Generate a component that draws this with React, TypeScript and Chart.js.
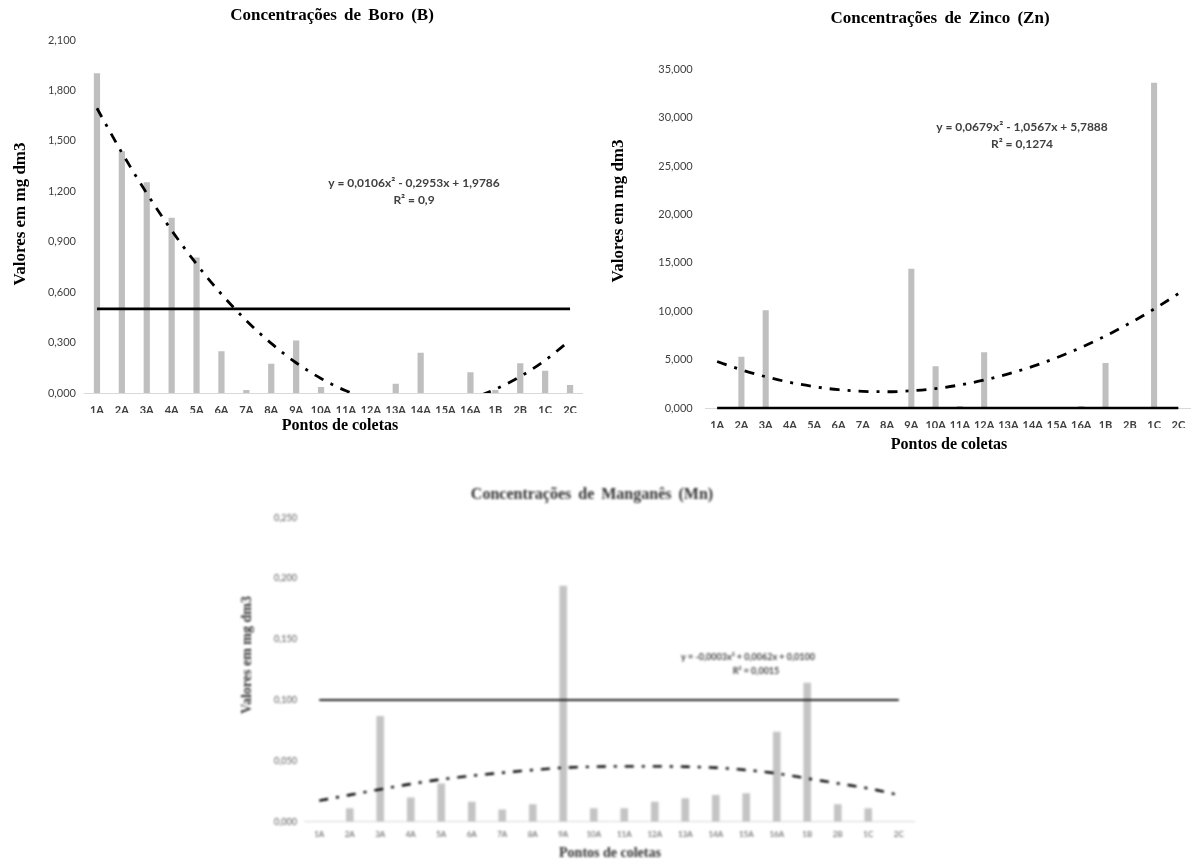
import React, { useEffect, useRef } from 'react';
import { Chart, registerables } from 'chart.js';

Chart.register(...registerables);

// ---------- data ----------
const categories = ['1A', '2A', '3A', '4A', '5A', '6A', '7A', '8A', '9A', '10A', '11A', '12A', '13A', '14A', '15A', '16A', '1B', '2B', '1C', '2C'];

const boroValues = [1.902, 1.438, 1.254, 1.043, 0.806, 0.249, 0.018, 0.174, 0.312, 0.036, 0, 0, 0.055, 0.24, 0, 0.123, 0.018, 0.177, 0.133, 0.048];
const boroLimit = [0.5, 0.5, 0.5, 0.5, 0.5, 0.5, 0.5, 0.5, 0.5, 0.5, 0.5, 0.5, 0.5, 0.5, 0.5, 0.5, 0.5, 0.5, 0.5, 0.5];
const boroTrend = [1.694, 1.43, 1.188, 0.967, 0.767, 0.588, 0.431, 0.295, 0.18, 0.086, 0.013, -0.039, -0.069, -0.078, -0.066, -0.033, 0.022, 0.098, 0.195, 0.313];
const boroTicks = [0, 2.1, 0.3];
const boroEquation = ['y = 0,0106x² - 0,2953x + 1,9786', 'R² = 0,9'];

const zincoValues = [0, 5.3, 10.1, 0, 0, 0, 0, 0, 14.4, 4.32, 0.2, 5.77, 0, 0, 0, 0.2, 4.66, 0, 33.6, 0];
const zincoLimit = [0, 0, 0, 0, 0, 0, 0, 0, 0, 0, 0, 0, 0, 0, 0, 0, 0, 0, 0, 0];
const zincoTrend = [4.8, 3.947, 3.23, 2.648, 2.203, 1.893, 1.719, 1.681, 1.778, 2.012, 2.381, 2.886, 3.527, 4.303, 5.216, 6.264, 7.448, 8.768, 10.223, 11.815];
const zincoTicks = [0, 35, 5];
const zincoEquation = ['y = 0,0679x² - 1,0567x + 5,7888', 'R² = 0,1274'];

const mnValues = [0, 0.011, 0.087, 0.02, 0.0315, 0.0164, 0.0101, 0.0143, 0.194, 0.011, 0.011, 0.0164, 0.0192, 0.0219, 0.0233, 0.074, 0.1143, 0.0143, 0.011, 0];
const mnLimit = [0.1, 0.1, 0.1, 0.1, 0.1, 0.1, 0.1, 0.1, 0.1, 0.1, 0.1, 0.1, 0.1, 0.1, 0.1, 0.1, 0.1, 0.1, 0.1, 0.1];
const mnTrend = [0.0173, 0.022, 0.0266, 0.031, 0.0348, 0.0378, 0.0403, 0.0425, 0.0444, 0.0452, 0.0455, 0.0455, 0.0452, 0.0444, 0.0425, 0.0397, 0.0356, 0.0315, 0.0274, 0.022];
const mnTicks = [0, 0.25, 0.05];
const mnEquation = ['y = -0,0003x² + 0,0062x + 0,0100', 'R² = 0,0015'];

const titles = ['Concentrações de Boro (B)', 'Concentrações de Zinco (Zn)', 'Concentrações de Manganês (Mn)'];
const yTitle = 'Valores em mg dm3';
const xTitle = 'Pontos de coletas';

// ---------- helpers ----------
const CANVAS_W = 1240;
const CANVAS_H = 859;
const SERIF = '"Liberation Serif", "Times New Roman", serif';
const SANS = 'Lato, "Liberation Sans", sans-serif';

type TextItem = {
  text: string;
  x: number;
  y: number;
  font: string;
  color: string;
  rotate?: boolean;
  wordSpacing?: string;
};

type Spec = {
  values: number[];
  limit: number[];
  trend: number[];
  ticks: number[];
  area: { left: number; right: number; top: number; bottom: number };
  yAxisWidth: number;
  yTickPad: number;
  xTickPad: number;
  yTickFont: { size: number; weight?: string };
  xTickFont: { size: number; weight?: string };
  tickColor: string;
  barColor: string;
  barPct: number;
  limitWidth: number;
  limitColor: string;
  trendWidth: number;
  dash: number[];
  texts: TextItem[];
  blur?: string;
};

function fmt(v: number) {
  return Number(v).toFixed(3).replace('.', ',');
}

function buildConfig(spec: Spec): any {
  const xAxisH = 20;
  const padding = {
    left: spec.area.left - spec.yAxisWidth,
    right: CANVAS_W - spec.area.right,
    top: spec.area.top,
    bottom: CANVAS_H - spec.area.bottom - xAxisH,
  };
  const textPlugin = {
    id: 'texts',
    afterDraw(chart: any) {
      const ctx = chart.ctx as CanvasRenderingContext2D;
      spec.texts.forEach((it) => {
        ctx.save();
        ctx.font = it.font;
        ctx.fillStyle = it.color;
        ctx.textAlign = 'center';
        ctx.textBaseline = 'middle';
        if (it.wordSpacing) (ctx as any).wordSpacing = it.wordSpacing;
        ctx.translate(it.x, it.y);
        if (it.rotate) ctx.rotate(-Math.PI / 2);
        ctx.fillText(it.text, 0, 0);
        ctx.restore();
      });
    },
  };
  return {
    type: 'bar',
    data: {
      labels: categories,
      datasets: [
        {
          type: 'bar',
          data: spec.values,
          backgroundColor: spec.barColor,
          borderWidth: 0,
          barPercentage: spec.barPct,
          categoryPercentage: 1,
          order: 3,
        },
        {
          type: 'line',
          data: spec.limit,
          borderColor: spec.limitColor,
          borderWidth: spec.limitWidth,
          pointRadius: 0,
          fill: false,
          clip: 6,
          order: 2,
        },
        {
          type: 'line',
          data: spec.trend,
          borderColor: '#000000',
          borderWidth: spec.trendWidth,
          borderDash: spec.dash,
          borderCapStyle: 'butt',
          pointRadius: 0,
          fill: false,
          cubicInterpolationMode: 'monotone',
          clip: 0,
          order: 1,
        },
      ],
    },
    options: {
      responsive: false,
      animation: false,
      devicePixelRatio: 1,
      events: [],
      layout: { padding },
      plugins: {
        legend: { display: false },
        title: { display: false },
        tooltip: { enabled: false },
      },
      scales: {
        x: {
          type: 'category',
          offset: true,
          grid: { display: false, drawTicks: false },
          border: { display: true, color: '#d9d9d9', width: 1 },
          ticks: {
            autoSkip: false,
            maxRotation: 0,
            minRotation: 0,
            padding: spec.xTickPad,
            color: spec.tickColor,
            font: { family: SANS, size: spec.xTickFont.size, weight: spec.xTickFont.weight || 'normal' },
          },
          afterFit(scale: any) {
            scale.height = xAxisH;
          },
        },
        y: {
          min: spec.ticks[0],
          max: spec.ticks[1],
          grid: { display: false, drawTicks: false },
          border: { display: false },
          ticks: {
            stepSize: spec.ticks[2],
            padding: spec.yTickPad,
            color: spec.tickColor,
            font: { family: SANS, size: spec.yTickFont.size, weight: spec.yTickFont.weight || 'normal' },
            callback: (v: any) => fmt(v),
          },
          afterFit(scale: any) {
            scale.width = spec.yAxisWidth;
          },
        },
      },
    },
    plugins: [textPlugin],
  };
}

const titleFont = (s: number) => `bold ${s}px ${SERIF}`;
const eqFont = (s: number) => `bold ${s}px ${SANS}`;

const specs: Spec[] = [
  {
    values: boroValues,
    limit: boroLimit,
    trend: boroTrend,
    ticks: boroTicks,
    area: { left: 84.5, right: 582.5, top: 40, bottom: 393 },
    yAxisWidth: 80,
    yTickPad: 8.5,
    xTickPad: 11,
    yTickFont: { size: 11 },
    xTickFont: { size: 11, weight: 'bold' },
    tickColor: '#404040',
    barColor: '#bfbfbf',
    barPct: 0.25,
    limitWidth: 2.8,
    limitColor: '#000000',
    trendWidth: 2.8,
    dash: [10, 8, 3, 8],
    texts: [
      { text: titles[0], x: 332, y: 16, font: titleFont(17), color: '#000000', wordSpacing: '3px' },
      { text: yTitle, x: 21, y: 214, font: titleFont(17), color: '#000000', rotate: true },
      { text: xTitle, x: 340, y: 426, font: titleFont(16), color: '#000000' },
      { text: boroEquation[0], x: 414, y: 183, font: eqFont(12), color: '#404040' },
      { text: boroEquation[1], x: 414, y: 200, font: eqFont(12), color: '#404040' },
    ],
  },
  {
    values: zincoValues,
    limit: zincoLimit,
    trend: zincoTrend,
    ticks: zincoTicks,
    area: { left: 705, right: 1190.5, top: 69.3, bottom: 408 },
    yAxisWidth: 80,
    yTickPad: 12.3,
    xTickPad: 11,
    yTickFont: { size: 11 },
    xTickFont: { size: 11, weight: 'bold' },
    tickColor: '#404040',
    barColor: '#bfbfbf',
    barPct: 0.25,
    limitWidth: 2.4,
    limitColor: '#000000',
    trendWidth: 2.8,
    dash: [10, 8, 3, 8],
    texts: [
      { text: titles[1], x: 940, y: 19, font: titleFont(17), color: '#000000', wordSpacing: '3px' },
      { text: yTitle, x: 619, y: 211, font: titleFont(17), color: '#000000', rotate: true },
      { text: xTitle, x: 949, y: 445, font: titleFont(16), color: '#000000' },
      { text: zincoEquation[0], x: 1022, y: 127, font: eqFont(12), color: '#404040' },
      { text: zincoEquation[1], x: 1022, y: 144, font: eqFont(12), color: '#404040' },
    ],
  },
  {
    values: mnValues,
    limit: mnLimit,
    trend: mnTrend,
    ticks: mnTicks,
    area: { left: 304, right: 914, top: 517.7, bottom: 821.7 },
    yAxisWidth: 60,
    yTickPad: 7,
    xTickPad: 8,
    yTickFont: { size: 9 },
    xTickFont: { size: 8 },
    tickColor: '#555555',
    barColor: '#c4c4c4',
    barPct: 0.25,
    limitWidth: 2,
    limitColor: '#222222',
    trendWidth: 2.4,
    dash: [9, 8, 3, 8],
    blur: 'blur(1px)',
    texts: [
      { text: titles[2], x: 592, y: 495, font: titleFont(16), color: '#333333', wordSpacing: '3px' },
      { text: yTitle, x: 247, y: 655, font: titleFont(14), color: '#333333', rotate: true },
      { text: xTitle, x: 610, y: 853, font: titleFont(14), color: '#333333' },
      { text: mnEquation[0], x: 748, y: 657, font: eqFont(9), color: '#444444' },
      { text: mnEquation[1], x: 756, y: 671, font: eqFont(9), color: '#444444' },
    ],
  },
];

function ChartCanvas({ spec }: { spec: Spec }) {
  const ref = useRef<HTMLCanvasElement | null>(null);
  useEffect(() => {
    if (!ref.current) return;
    const chart = new Chart(ref.current, buildConfig(spec));
    return () => chart.destroy();
  }, [spec]);
  return (
    <canvas
      ref={ref}
      width={CANVAS_W}
      height={CANVAS_H}
      style={{
        position: 'absolute',
        left: 0,
        top: 0,
        width: CANVAS_W,
        height: CANVAS_H,
        filter: spec.blur || 'none',
      }}
    />
  );
}

export default function App() {
  return (
    <div
      style={{
        position: 'absolute',
        left: 0,
        top: 0,
        width: 1191,
        height: 859,
        overflow: 'hidden',
        background: '#ffffff',
      }}
    >
      {specs.map((s, i) => (
        <ChartCanvas key={i} spec={s} />
      ))}
    </div>
  );
}
